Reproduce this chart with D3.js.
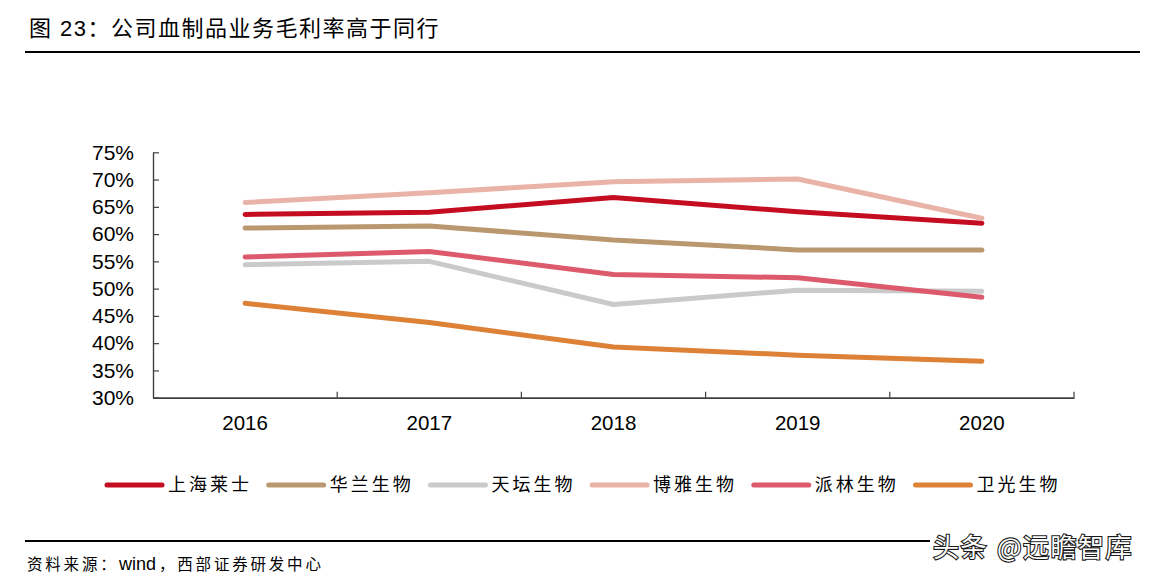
<!DOCTYPE html>
<html>
<head>
<meta charset="utf-8">
<script src="https://cdn.jsdelivr.net/npm/d3@7"></script>
<style>
  html, body { margin: 0; padding: 0; background: #fff; }
  svg { display: block; }
</style>
</head>
<body>
<svg id="chart" width="1163" height="582"></svg>
<script>
// ---- data ----
const years = ["2016", "2017", "2018", "2019", "2020"];
const seriesNames = ["上海莱士", "华兰生物", "天坛生物", "博雅生物", "派林生物", "卫光生物"];
const shanghaiRaas = [63.6, 64.0, 66.7, 64.1, 62.0];
const hualan      = [61.1, 61.5, 58.9, 57.1, 57.1];
const tiantan     = [54.4, 55.0, 47.1, 49.7, 49.5];
const boya        = [65.8, 67.6, 69.6, 70.1, 62.9];
const pailin      = [55.8, 56.8, 52.6, 52.0, 48.4];
const weiguang    = [47.3, 43.8, 39.3, 37.8, 36.7];
const yTicks = [30, 35, 40, 45, 50, 55, 60, 65, 70, 75];
const colors = ["#C40D20", "#BA986F", "#CACACA", "#EAB3A8", "#DC5A6C", "#DD8136"];
const titleText = "图 23：公司血制品业务毛利率高于同行";

const seriesValues = [shanghaiRaas, hualan, tiantan, boya, pailin, weiguang];

const svg = d3.select("#chart");
const latin = "'Liberation Sans', Arial, 'Noto Sans CJK SC', sans-serif";
const cjk = "'Liberation Sans', 'Noto Sans CJK SC', sans-serif";

// ---- scales ----
const x = d3.scaleBand().domain(years).range([153, 1074]).padding(0);
const y = d3.scaleLinear().domain([30, 75]).range([397.7, 152.3]);

// ---- title ----
svg.append("text")
  .attr("x", 29).attr("y", 36)
  .attr("font-family", cjk).attr("font-size", 22).attr("fill", "#000")
  .attr("letter-spacing", 1.5)
  .text(titleText);
svg.append("line")
  .attr("x1", 25).attr("x2", 1140).attr("y1", 52).attr("y2", 52)
  .attr("stroke", "#000").attr("stroke-width", 2.2);

// ---- axes ----
const axisColor = "#404040";
const yAxis = d3.axisLeft(y).tickValues(yTicks).tickFormat(d => d + "%")
  .tickSize(-6).tickPadding(19).tickSizeOuter(0);
const gy = svg.append("g").attr("transform", "translate(153,0)").call(yAxis);
gy.select(".domain").attr("stroke", axisColor).attr("stroke-width", 1.4);
gy.selectAll(".tick line").attr("stroke", axisColor).attr("stroke-width", 1.2);
gy.selectAll(".tick text")
  .attr("font-family", latin).attr("font-size", 21).attr("fill", "#000");

const xAxis = d3.axisBottom(x).tickSize(0).tickPadding(17.7).tickSizeOuter(0);
const gx = svg.append("g").attr("transform", `translate(0,${y(30)})`).call(xAxis);
gx.select(".domain").attr("stroke", axisColor).attr("stroke-width", 1.8);
gx.selectAll(".tick text")
  .attr("font-family", latin).attr("font-size", 20.5).attr("fill", "#000");
// category boundary ticks (pointing up)
const bounds = years.map(d => x(d)).concat([x.range()[1]]);
gx.selectAll(".bound").data(bounds.slice(1)).enter().append("line")
  .attr("class", "bound")
  .attr("x1", d => d).attr("x2", d => d)
  .attr("y1", 0).attr("y2", -6)
  .attr("stroke", axisColor).attr("stroke-width", 1.2);

// ---- lines ----
const line = d3.line()
  .x((d, i) => x(years[i]) + x.bandwidth() / 2)
  .y(d => y(d));
svg.append("g").selectAll("path").data(seriesValues).enter().append("path")
  .attr("d", d => line(d))
  .attr("fill", "none")
  .attr("stroke", (d, i) => colors[i])
  .attr("stroke-width", 5)
  .attr("stroke-linecap", "round")
  .attr("stroke-linejoin", "round");

// ---- legend ----
const legend = svg.append("g");
const lgStart = 107, lgStep = 161.7, lgY = 485;
seriesNames.forEach((name, i) => {
  const lx = lgStart + i * lgStep;
  legend.append("line")
    .attr("x1", lx).attr("x2", lx + 55)
    .attr("y1", lgY).attr("y2", lgY)
    .attr("stroke", colors[i]).attr("stroke-width", 5)
    .attr("stroke-linecap", "round");
  legend.append("text")
    .attr("x", lx + 61).attr("y", lgY)
    .attr("dominant-baseline", "central")
    .attr("font-family", cjk).attr("font-size", 18)
    .attr("letter-spacing", 3).attr("fill", "#000")
    .text(name);
});

// ---- footer ----
svg.append("line")
  .attr("x1", 25).attr("x2", 1140).attr("y1", 541).attr("y2", 541)
  .attr("stroke", "#000").attr("stroke-width", 2.2);
const src = svg.append("text").attr("y", 570)
  .attr("font-family", cjk).attr("fill", "#000");
src.append("tspan").attr("x", 27).attr("font-size", 15.5).attr("letter-spacing", 2.8).text("资料来源：");
src.append("tspan").attr("x", 119).attr("font-size", 18).attr("font-family", latin).text("wind");
src.append("tspan").attr("x", 159).attr("font-size", 15.5).attr("letter-spacing", 2.8).text("，西部证券研发中心");

// ---- watermark ----
svg.append("rect").attr("x", 930).attr("y", 532).attr("width", 225).attr("height", 32).attr("fill", "#fff");
const wm = svg.append("text").attr("y", 557)
  .attr("font-family", "'Noto Sans CJK SC', sans-serif").attr("font-size", 26)
  .attr("fill", "#fff").attr("stroke", "#1a1a1a").attr("stroke-width", 2.2)
  .attr("paint-order", "stroke").attr("letter-spacing", 1.5);
wm.append("tspan").attr("x", 933).text("头条");
wm.append("tspan").attr("x", 997).text("@远瞻智库");
</script>
</body>
</html>
